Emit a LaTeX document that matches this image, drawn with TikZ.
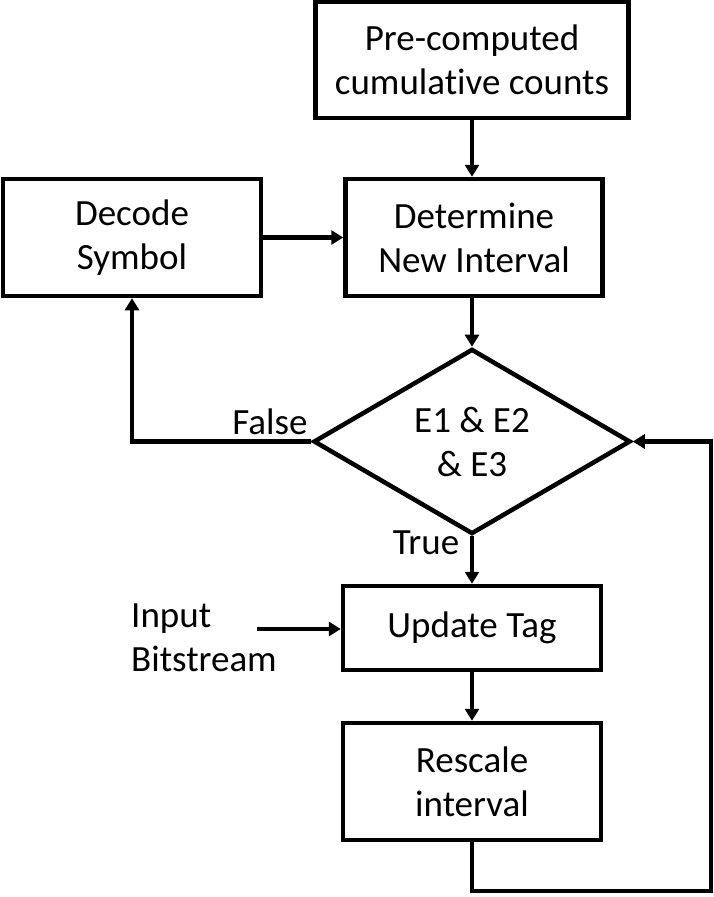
\documentclass[tikz,border=0pt]{standalone}
\usepackage{fontspec}
\setmainfont{Carlito}[Ligatures=NoCommon]
\usetikzlibrary{shapes.geometric,arrows.meta}
\begin{document}
\begin{tikzpicture}[x=1pt,y=-1pt,
    font=\fontsize{37}{44}\selectfont,
    every node/.style={inner sep=0pt},
    block/.style={draw,line width=4.5pt,rectangle,align=center,minimum height=117pt,minimum width=258pt},
    decision/.style={draw,line width=4.5pt,diamond,align=center,minimum width=317pt,minimum height=177pt},
    line/.style={line width=4.5pt,-{Triangle[length=12pt,width=14pt]}}]
  % Page size
  \useasboundingbox (0,0) rectangle (714,897);

  % Blocks
  \node[block,minimum width=313pt,minimum height=116pt] (pre) at (472,60) {Pre-computed\\cumulative counts};
  \node[block,minimum width=257pt] (det) at (474,237.5) {Determine\\New Interval};
  \node[block] (dec) at (132,237.5) {Decode\\Symbol};
  \node[decision] (cond) at (472,441.5) {E1 \& E2\\\& E3};
  \node[block,minimum height=84pt] (upd) at (472,628) {Update Tag};
  \node[block] (res) at (472,781.5) {Rescale\\interval};

  % Labels
  \node (false) at (270,422) {False};
  \node (true) at (426,543) {True};
  \node[anchor=west,align=left] (bits) at (131,638) {Input\\Bitstream};
  \coordinate (inp) at (257,629);
  \coordinate (loop) at (711,891);

  % Connectors
  \draw[line] (pre.south) -- (pre.south |- det.north);
  \draw[line] (dec.east) -- (det.west);
  \draw[line] (det.south -| cond.north) -- (cond.north);
  \draw[line] (cond.west) -| (dec.south);
  \draw[line] (cond.south) -- (upd.north);
  \draw[line] (inp) -- (inp -| upd.west);
  \draw[line] (upd.south) -- (res.north);
  \draw[line] (res.south) |- (loop) |- (cond.east);
\end{tikzpicture}
\end{document}
